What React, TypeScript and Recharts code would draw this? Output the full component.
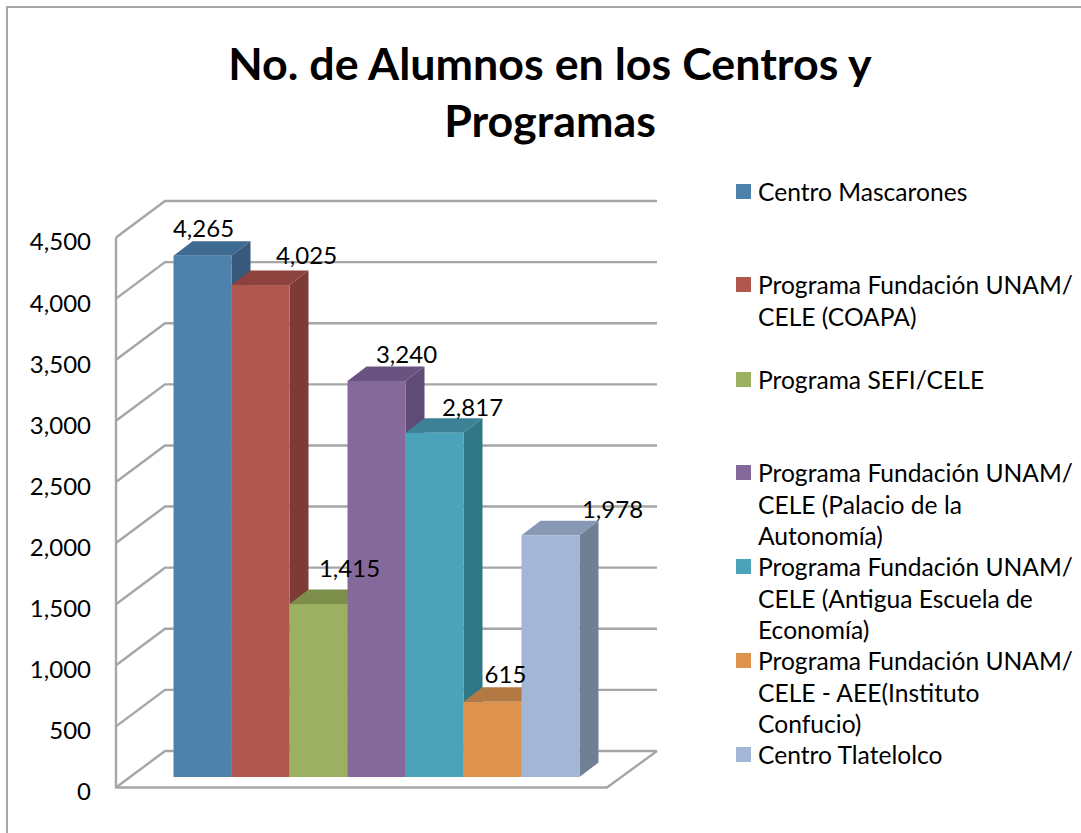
/**
 * 3D style column chart: No. de Alumnos en los Centros y Programas
 */
import React from 'react';
import { BarChart, Bar, XAxis, YAxis, CartesianGrid, Legend, LabelList } from 'recharts';

const seriesNames = [
  'Centro Mascarones',
  'Programa Fundación UNAM/ CELE (COAPA)',
  'Programa SEFI/CELE',
  'Programa Fundación UNAM/ CELE (Palacio de la Autonomía)',
  'Programa Fundación UNAM/ CELE (Antigua Escuela de Economía)',
  'Programa Fundación UNAM/ CELE - AEE(Instituto Confucio)',
  'Centro Tlatelolco',
];
const seriesValues = [4265, 4025, 1415, 3240, 2817, 615, 1978];
const yTicks = [0, 500, 1000, 1500, 2000, 2500, 3000, 3500, 4000, 4500];
const titleLines = ['No. de Alumnos en los Centros y', 'Programas'];

const frontColors = ['#4f81ad', '#b0574f', '#9bb060', '#85699b', '#4ba2b9', '#dd934e', '#a3b6d6'];
const topColors = ['#3f6a91', '#8c433d', '#7c8e4a', '#6a5380', '#3c8195', '#b27a42', '#8798b4'];
const sideColors = ['#37597c', '#7d3a36', '#6c7c40', '#5f4b76', '#2f7687', '#9c6a38', '#6f7f94'];

// label placement relative to the top centre of each column
const labelDx = [1, 46, 31, 30, 38, 13, 62];
const labelDy = [-27, -29, -35, -26, -25, -27, -26];
const legendTops = [176, 269, 364, 457, 551, 645, 739];

const FONT = 'Lato, sans-serif';
const GRID = '#a6a6a6';
const WIDTH = 1081;
const HEIGHT = 833;
const MARGIN = { top: 227, right: 459, bottom: 56, left: 0 };
const PLOT_HEIGHT = HEIGHT - MARGIN.top - MARGIN.bottom;
const DEPTH_X = 19;
const DEPTH_Y = 14.5;

const chartData = [
  seriesValues.reduce<Record<string, number | string>>(
    (row, value, i) => {
      row[`s${i}`] = value;
      return row;
    },
    { category: '' },
  ),
];

const Column3D = (props: any) => {
  const { x, y, width, height, index } = props;
  const i = props.seriesIndex ?? index;
  const r = x + width;
  const b = y + height;
  return (
    <g>
      <path d={`M${x} ${y}L${x + DEPTH_X} ${y - DEPTH_Y}H${r + DEPTH_X}L${r} ${y}Z`} fill={topColors[i]} />
      <path d={`M${r} ${y}L${r + DEPTH_X} ${y - DEPTH_Y}V${b - DEPTH_Y}L${r} ${b}Z`} fill={sideColors[i]} />
      <rect x={x} y={y} width={width} height={height} fill={frontColors[i]} />
    </g>
  );
};

// each gridline wraps from the side wall on to the back wall
const WallLine = (props: any) => {
  const y = props.y1;
  const isFloor = Math.abs(y - (MARGIN.top + PLOT_HEIGHT)) < 1;
  const front = y + 10.5;
  const back = y - 26;
  return (
    <g key={props.key}>
      <path d={`M116 ${front}L165 ${back}H657`} fill="none" stroke={GRID} strokeWidth={2.4} />
      {isFloor && (
        <path
          d={`M657 ${back}L607 ${front}H116V${front - PLOT_HEIGHT}`}
          fill="none"
          stroke={GRID}
          strokeWidth={2.4}
        />
      )}
    </g>
  );
};

const AxisTick = (props: any) => (
  <text x={91} y={props.y + 15} dy="0.35em" textAnchor="end" fontFamily={FONT} fontSize={24} fill="#000">
    {props.payload.value.toLocaleString('en-US')}
  </text>
);

const valueLabel = (i: number) => (props: any) => (
  <text
    x={props.x + props.width / 2 + labelDx[i]}
    y={props.y + labelDy[i]}
    dy="0.35em"
    textAnchor="middle"
    fontFamily={FONT}
    fontSize={24}
    fill="#000"
  >
    {Number(props.value).toLocaleString('en-US')}
  </text>
);

const LegendBlock = () => (
  <div style={{ position: 'relative', width: WIDTH, height: HEIGHT, fontFamily: FONT, fontSize: 24.6, lineHeight: '31.5px' }}>
    {seriesNames.map((name, i) => (
      <div key={name} style={{ position: 'absolute', left: 736, top: legendTops[i], width: 340 }}>
        <span
          style={{ position: 'absolute', left: 0, top: 8, width: 15, height: 15, background: frontColors[i] }}
        />
        <div style={{ marginLeft: 22, width: 318, color: '#000' }}>{name}</div>
      </div>
    ))}
  </div>
);

export default function App() {
  return (
    <div style={{ position: 'absolute', left: 0, top: 0, width: WIDTH, height: HEIGHT, background: '#fff' }}>
      <BarChart width={WIDTH} height={HEIGHT} data={chartData} margin={MARGIN} barCategoryGap={43.5} barGap={0}>
        <path d={`M7 ${HEIGHT}V7H${WIDTH}`} fill="none" stroke={GRID} strokeWidth={2} />
        {titleLines.map((line, i) => (
          <text
            key={line}
            x={550}
            y={64 + i * 57}
            dy="0.35em"
            textAnchor="middle"
            fontFamily={FONT}
            fontWeight={700}
            fontSize={44.8}
            fill="#000"
          >
            {line}
          </text>
        ))}
        <CartesianGrid vertical={false} horizontal={WallLine} />
        <XAxis dataKey="category" hide />
        <YAxis
          width={130}
          domain={[0, 4500]}
          ticks={yTicks}
          axisLine={false}
          tickLine={false}
          interval={0}
          tick={AxisTick}
        />
        <Legend
          layout="horizontal"
          verticalAlign="middle"
          align="center"
          content={LegendBlock}
          wrapperStyle={{ position: 'absolute', left: 0, top: 0, width: WIDTH, height: HEIGHT, pointerEvents: 'none' }}
        />
        {seriesNames.map((name, i) => (
          <Bar
            key={name}
            dataKey={`s${i}`}
            name={name}
            fill={frontColors[i]}
            isAnimationActive={false}
            shape={(p: any) => <Column3D {...p} seriesIndex={i} />}
          >
            <LabelList dataKey={`s${i}`} content={valueLabel(i)} />
          </Bar>
        ))}
      </BarChart>
    </div>
  );
}
